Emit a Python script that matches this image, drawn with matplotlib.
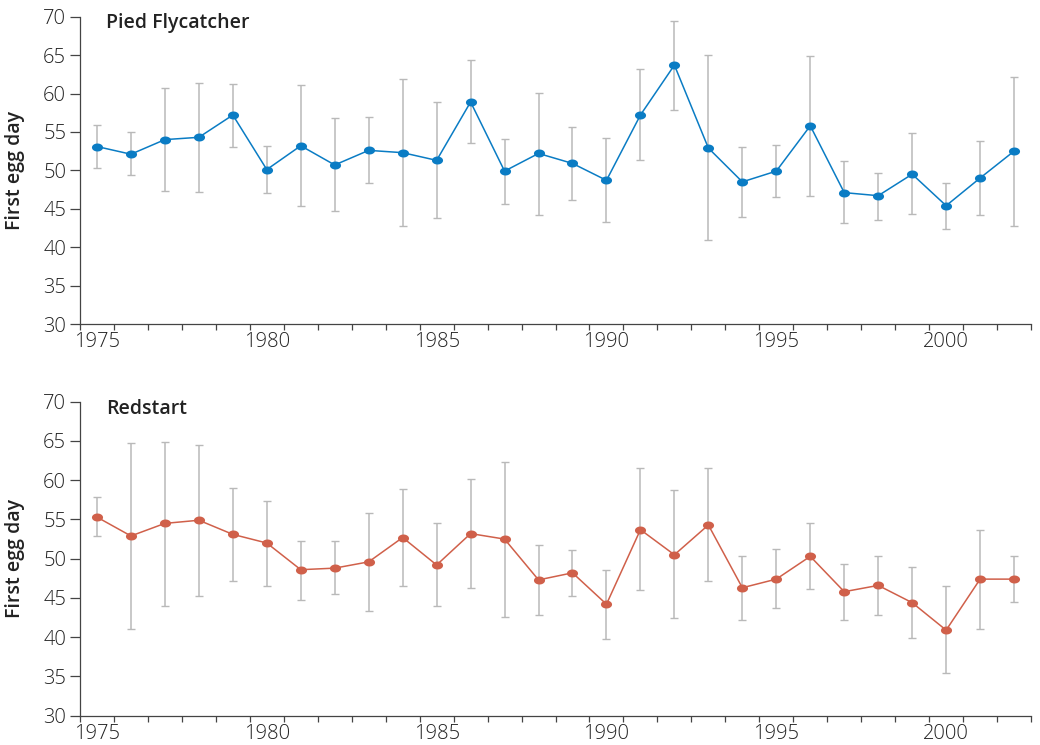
import numpy as np
import matplotlib
matplotlib.use("Agg")
import matplotlib.pyplot as plt
from matplotlib.path import Path

plt.rcParams['font.family'] = ['Open Sans', 'DejaVu Sans']

""" data """

years = np.arange(1975, 2003)

pied_mean = [53.1, 52.1, 54.0, 54.3, 57.2, 50.1, 53.2, 50.7, 52.6, 52.3,
             51.3, 58.9, 49.9, 52.2, 50.9, 48.7, 57.2, 63.7, 52.9, 48.5,
             49.9, 55.8, 47.1, 46.7, 49.5, 45.4, 49.0, 52.5]
pied_hi = [55.9, 55.0, 60.7, 61.4, 61.3, 53.2, 61.1, 56.8, 56.9, 61.9,
           58.9, 64.3, 54.1, 60.1, 55.6, 54.2, 63.2, 69.4, 65.0, 53.1,
           53.3, 64.9, 51.2, 49.7, 54.8, 48.4, 53.8, 62.1]
pied_lo = [50.3, 49.4, 47.3, 47.2, 53.1, 47.0, 45.3, 44.7, 48.4, 42.7,
           43.8, 53.5, 45.6, 44.2, 46.2, 43.3, 51.3, 57.9, 40.9, 43.9,
           46.5, 46.7, 43.1, 43.6, 44.3, 42.4, 44.2, 42.8]

red_mean = [55.3, 52.9, 54.5, 54.9, 53.1, 52.0, 48.6, 48.8, 49.6, 52.7,
            49.2, 53.2, 52.5, 47.3, 48.2, 44.2, 53.7, 50.5, 54.3, 46.3,
            47.4, 50.3, 45.8, 46.6, 44.4, 40.9, 47.4, 47.4]
red_hi = [57.8, 64.7, 64.9, 64.5, 59.0, 57.4, 52.3, 52.3, 55.8, 58.9,
          54.6, 60.1, 62.3, 51.7, 51.1, 48.6, 61.5, 58.7, 61.5, 50.3,
          51.2, 54.5, 49.3, 50.3, 48.9, 46.5, 53.7, 50.4]
red_lo = [52.9, 41.1, 44.0, 45.3, 47.1, 46.5, 44.7, 45.5, 43.4, 46.5,
          44.0, 46.3, 42.6, 42.8, 45.3, 39.8, 46.0, 42.4, 47.1, 42.2,
          43.7, 46.1, 42.2, 42.8, 39.9, 35.4, 41.1, 44.5]

panels = [("Pied Flycatcher", pied_mean, pied_lo, pied_hi, "#0a7cc4"),
          ("Redstart", red_mean, red_lo, red_hi, "#d0604a")]

# slightly wide ellipse marker
t = np.linspace(0, 2 * np.pi, 40)
ellipse = Path(np.column_stack([np.cos(t), 0.72 * np.sin(t)]), closed=True)

""" plot """

fig = plt.figure(figsize=(10.4, 7.45), dpi=100)
boxes = [[0.0769, 0.5651, 0.9145, 0.4125],
         [0.0769, 0.0393, 0.9145, 0.4215]]

for box, (name, mean, lo, hi, col) in zip(boxes, panels):
    ax = fig.add_axes(box)
    mean = np.array(mean)
    yerr = [mean - np.array(lo), np.array(hi) - mean]

    ax.errorbar(years, mean, yerr=yerr, fmt="none", ecolor="#b9b9b9",
                elinewidth=1.1, capsize=2.6, capthick=1.0, zorder=1)
    ax.plot(years, mean, color=col, lw=1.1, marker=ellipse,
            markersize=8, markeredgewidth=0, zorder=2)

    ax.set_xlim(1974.5, 2002.5)
    ax.set_ylim(30, 70)
    ax.set_yticks(np.arange(30, 71, 5))

    ax.set_xticks(np.arange(1974.5, 2003, 1))
    ax.set_xticklabels([])
    ax.set_xticks(np.arange(1975, 2001, 5), minor=True)
    ax.set_xticklabels([str(y) for y in range(1975, 2001, 5)], minor=True,
                       fontweight="light")
    for lab in ax.get_yticklabels():
        lab.set_fontweight("light")
    ax.tick_params(axis="x", which="major", length=4.5, width=0.9,
                   color="#444444")
    ax.tick_params(axis="x", which="minor", length=0, pad=6,
                   labelsize=14.5, labelcolor="#222222")
    ax.tick_params(axis="y", length=7, width=0.9, color="#444444",
                   labelsize=14.5, labelcolor="#222222", pad=3)

    for s in ["top", "right"]:
        ax.spines[s].set_visible(False)
    for s in ["left", "bottom"]:
        ax.spines[s].set_color("#444444")
        ax.spines[s].set_linewidth(0.9)

    ax.text(0.027, 0.978, name, transform=ax.transAxes, fontsize=14,
            weight="semibold", color="#222222", va="center", ha="left")
    ax.set_ylabel("First egg day", fontsize=14, weight="semibold",
                  color="#222222")
    ax.yaxis.set_label_coords(-0.058, 0.5)

fig.savefig("out.png", dpi=100)
